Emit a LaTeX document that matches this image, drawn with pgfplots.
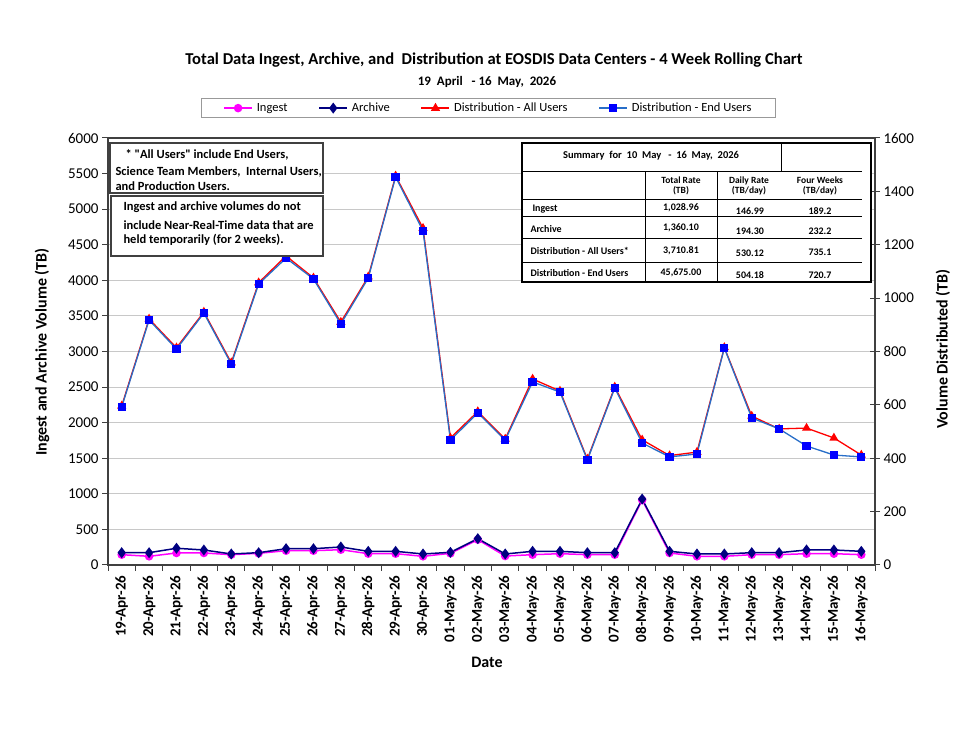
\documentclass[border=0pt]{standalone}
\usepackage{fontspec}
\setmainfont{Carlito}[Ligatures=TeXOff]
\usepackage{pgfplots}
\pgfplotsset{compat=1.18}
\usepackage{pgfplotstable}

\definecolor{ingestc}{RGB}{255,0,255}
\definecolor{archivec}{RGB}{0,0,128}
\definecolor{allc}{RGB}{255,0,0}
\definecolor{endline}{RGB}{40,110,200}
\definecolor{endmark}{RGB}{0,0,255}
\definecolor{framec}{RGB}{64,64,64}
\definecolor{gridc}{RGB}{200,200,200}

\newcommand{\fs}[1]{\fontsize{#1bp}{#1bp}\selectfont}

% daily volumes: ingest/archive in TB (left axis), distribution in TB (right axis)
\pgfplotstableread{
x ingest archive allusers endusers
0  145 173  596  592
1  122 173  922  918
2  169 235  814  809
3  169 211  948  944
4  145 155  758  753
5  164 173 1058 1053
6  201 229 1158 1150
7  201 229 1076 1072
8  215 253  910  903
9  159 192 1080 1075
10 159 192 1458 1454
11 122 155 1262 1252
12 164 178  476  468
13 356 370  575  570
14 126 155  472  468
15 145 192  697  686
16 159 192  652  648
17 145 173  397  393
18 145 173  667  663
19 913 927  469  457
20 169 192  410  405
21 122 155  423  416
22 122 155  815  813
23 145 173  558  551
24 145 173  510  510
25 159 211  513  446
26 159 211  476  412
27 145 192  412  405
}\datatable

\pgfplotsset{
  commonaxis/.style={
    at={(108bp,164bp)}, anchor=south west,
    scale only axis, width=767bp, height=427bp,
    xmin=-0.5, xmax=27.5,
    /pgf/number format/assume math mode=true,
    /pgf/number format/1000 sep={},
    scaled y ticks=false,
    yticklabel style={font=\fs{15}},
  },
}

\begin{document}
\begin{tikzpicture}
\useasboundingbox (0,0) rectangle (972bp,729bp);

\begin{axis}[
  commonaxis,
  ymin=0, ymax=6000,
  ytick={0,500,...,6000},
  xtick={-0.5,0.5,...,27.5},
  xticklabel=\empty,
  extra x ticks={0,...,27},
  extra x tick labels={19-Apr-26,20-Apr-26,21-Apr-26,22-Apr-26,23-Apr-26,24-Apr-26,25-Apr-26,26-Apr-26,27-Apr-26,28-Apr-26,29-Apr-26,30-Apr-26,01-May-26,02-May-26,03-May-26,04-May-26,05-May-26,06-May-26,07-May-26,08-May-26,09-May-26,10-May-26,11-May-26,12-May-26,13-May-26,14-May-26,15-May-26,16-May-26},
  extra x tick style={major tick length=0pt,
    xticklabel style={yshift=-7bp, rotate=90, anchor=east, font=\bfseries\fs{15}}},
  tick align=outside, major tick length=6bp,
  xtick pos=left, ytick pos=left,
  ymajorgrids, grid style={gridc, line width=1bp},
  axis line style={framec, line width=1.5bp},
  tick style={framec, line width=1bp},
  legend style={at={(0.496,1.07)}, anchor=center, draw=gray!80, line width=0.8bp,
    font=\fs{12.5}, inner ysep=2.5bp, inner xsep=22bp,
    /tikz/every odd column/.append style={column sep=2bp},
    /tikz/every even column/.append style={column sep=29bp}},
  legend columns=4,
  legend image code/.code={\draw[mark repeat=2,mark phase=2] plot coordinates {(0bp,0bp) (14bp,0bp) (28bp,0bp)};},
]
\addplot[ingestc, line width=1.5bp, mark=*, mark size=3.5bp] table[x=x, y=ingest] {\datatable};
\addlegendentry{Ingest}
\addplot[archivec, line width=1.5bp, mark=diamond*, mark size=4.3bp] table[x=x, y=archive] {\datatable};
\addlegendentry{Archive}
\addlegendimage{allc, line width=1.3bp, mark=triangle*, mark size=4bp}
\addlegendentry{Distribution - All Users}
\addlegendimage{endline, line width=1.3bp, mark=square*, mark size=3.5bp, mark options={draw=endmark, fill=endmark}}
\addlegendentry{Distribution - End Users}
\end{axis}

\begin{axis}[
  commonaxis,
  ymin=0, ymax=1600,
  ytick={0,200,...,1600},
  axis x line=none,
  axis y line*=right,
  tick align=center, major tick length=10bp,
  axis line style={framec, line width=1.5bp},
  tick style={framec, line width=1bp},
]
\addplot[allc, line width=1.3bp, mark=triangle*, mark size=4bp] table[x=x, y=allusers] {\datatable};
\addplot[endline, line width=1.3bp, mark=square*, mark size=3.5bp, mark options={draw=endmark, fill=endmark}] table[x=x, y=endusers] {\datatable};
\end{axis}

\begin{scope}[x=1bp, y=1bp]
% titles and axis labels
\node[font=\bfseries\fs{16.6}] at (494,669) {Total Data Ingest, Archive, and\ \ Distribution at EOSDIS Data Centers - 4 Week Rolling Chart};
\node[font=\bfseries\fs{13}] at (487,647) {19\ \ April\ \ \ - 16\ \ May,\ \ 2026};
\node[font=\bfseries\fs{16}, rotate=90] at (42,377) {Ingest and Archive Volume (TB)};
\node[font=\bfseries\fs{16}, rotate=90] at (943,380) {Volume Distributed (TB)};
\node[font=\bfseries\fs{16}] at (487,67) {Date};

% note boxes
\draw[framec, line width=1.8bp, fill=white] (110,586) rectangle (323,536);
\node[font=\bfseries\fs{12.5}, anchor=west] at (122,574) {* "All Users" include End Users,};
\node[font=\bfseries\fs{12.5}, anchor=west] at (112,557) {Science Team Members,\ \ Internal Users,};
\node[font=\bfseries\fs{12.5}, anchor=west] at (112,543) {and Production Users.};
\draw[framec, line width=1.8bp, fill=white] (111,533) rectangle (323,473);
\node[font=\bfseries\fs{12.5}, anchor=west] at (120,522) {Ingest and archive volumes do not};
\node[font=\bfseries\fs{12.5}, anchor=west] at (120,504) {include Near-Real-Time data that are};
\node[font=\bfseries\fs{12.5}, anchor=west] at (120,489) {held temporarily (for 2 weeks).};

% summary table
\draw[black, line width=1.5bp, fill=white] (522,586) rectangle (871,447);
\draw[black, line width=1bp] (781,586) -- (781,557);
\draw[black, line width=1bp] (522,557) -- (862,557);
\draw[black, line width=1bp] (522,529) -- (862,529);
\draw[black, line width=1bp] (522,512) -- (862,512);
\draw[black, line width=1bp] (522,490) -- (862,490);
\draw[black, line width=1bp] (522,466) -- (862,466);
\draw[black, line width=1bp] (645,557) -- (645,447);
\draw[black, line width=1bp] (717,557) -- (717,447);
\node[font=\bfseries\fs{10.5}] at (651,573) {Summary\ \ for\ \ 10\ \ May\ \ \ -\ \ 16\ \ May,\ \ 2026};
\node[font=\bfseries\fs{9.5}, align=center] at (681,543) {Total Rate\\(TB)};
\node[font=\bfseries\fs{9.5}, align=center] at (749,543) {Daily Rate\\(TB/day)};
\node[font=\bfseries\fs{9.5}, align=center] at (820,543) {Four Weeks\\(TB/day)};
\node[font=\bfseries\fs{10}, anchor=west] at (529,520) {Ingest};
\node[font=\bfseries\fs{10}, anchor=west] at (527,500) {Archive};
\node[font=\bfseries\fs{10}, anchor=west] at (527,478) {Distribution - All Users*};
\node[font=\bfseries\fs{10}, anchor=west] at (527,456) {Distribution - End Users};
\node[font=\bfseries\fs{10}] at (681,521) {1,028.96};
\node[font=\bfseries\fs{10}] at (681,501) {1,360.10};
\node[font=\bfseries\fs{10}] at (681,478) {3,710.81};
\node[font=\bfseries\fs{10}] at (681,456) {45,675.00};
\node[font=\bfseries\fs{10}] at (750,518) {146.99};
\node[font=\bfseries\fs{10}] at (750,498) {194.30};
\node[font=\bfseries\fs{10}] at (750,476) {530.12};
\node[font=\bfseries\fs{10}] at (750,454) {504.18};
\node[font=\bfseries\fs{10}] at (820,518) {189.2};
\node[font=\bfseries\fs{10}] at (820,498) {232.2};
\node[font=\bfseries\fs{10}] at (820,477) {735.1};
\node[font=\bfseries\fs{10}] at (820,454) {720.7};
\end{scope}
\end{tikzpicture}
\end{document}
